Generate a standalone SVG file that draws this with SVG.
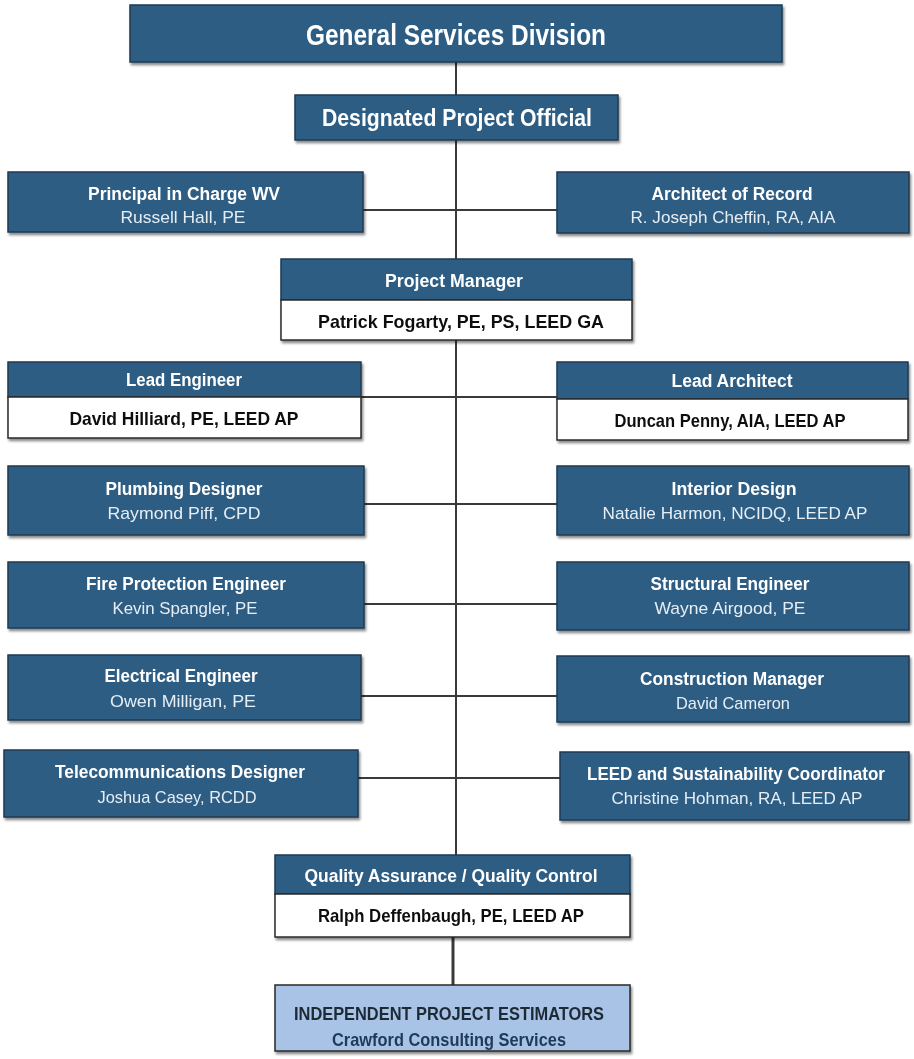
<svg xmlns="http://www.w3.org/2000/svg" width="914" height="1059" viewBox="0 0 914 1059">
<style>
.box{fill:#2d5d84;stroke:#1d3a52;stroke-width:1.5}
.wbox{fill:#ffffff;stroke:#2a2a2a;stroke-width:1.5}
.lbox{fill:#a8c3e6;stroke:#2a2a2a;stroke-width:1.5}
.t{font-family:"Liberation Sans",Arial,sans-serif;fill:#ffffff;text-anchor:middle;font-weight:bold}
.n{font-family:"Liberation Sans",Arial,sans-serif;fill:#e6eef5;text-anchor:middle}
.k{font-family:"Liberation Sans",Arial,sans-serif;fill:#111111;text-anchor:middle;font-weight:bold}
.c{stroke:#3a3a3a;stroke-width:2;fill:none}
</style>
<defs>
<filter id="sh" x="-5%" y="-10%" width="110%" height="130%">
<feDropShadow dx="1.5" dy="2.5" stdDeviation="1.2" flood-color="#000" flood-opacity="0.45"/>
</filter>
</defs>
<rect width="914" height="1059" fill="#ffffff"/>
<g id="connectors">
<line class="c" x1="456" y1="62" x2="456" y2="259"/>
<line class="c" x1="456" y1="340" x2="456" y2="855"/>
<line class="c" x1="363" y1="210" x2="557" y2="210"/>
<line class="c" x1="361" y1="397" x2="557" y2="397"/>
<line class="c" x1="364" y1="504" x2="557" y2="504"/>
<line class="c" x1="364" y1="604" x2="557" y2="604"/>
<line class="c" x1="361" y1="696" x2="557" y2="696"/>
<line class="c" x1="358" y1="778" x2="560" y2="778"/>
<line class="c" x1="453" y1="937" x2="453" y2="985" style="stroke-width:3"/>
</g>
<g id="general-services-division" filter="url(#sh)">
<rect class="box" x="130" y="5" width="652" height="57"/>
<text class="t" x="456" y="45" font-size="29" textLength="300" lengthAdjust="spacingAndGlyphs">General Services Division</text>
</g>
<g id="designated-project-official" filter="url(#sh)">
<rect class="box" x="295" y="95" width="323" height="45"/>
<text class="t" x="457" y="126" font-size="23" textLength="270" lengthAdjust="spacingAndGlyphs">Designated Project Official</text>
</g>
<g id="principal-in-charge" filter="url(#sh)">
<rect class="box" x="8" y="172" width="355" height="60"/>
<text class="t" x="184" y="200" font-size="18" textLength="192" lengthAdjust="spacingAndGlyphs">Principal in Charge WV</text>
<text class="n" x="183" y="223" font-size="17" textLength="125" lengthAdjust="spacingAndGlyphs">Russell Hall, PE</text>
</g>
<g id="architect-of-record" filter="url(#sh)">
<rect class="box" x="557" y="172" width="352" height="61"/>
<text class="t" x="732" y="200" font-size="18" textLength="161" lengthAdjust="spacingAndGlyphs">Architect of Record</text>
<text class="n" x="733" y="223" font-size="17" textLength="205" lengthAdjust="spacingAndGlyphs">R. Joseph Cheffin, RA, AIA</text>
</g>
<g id="project-manager" filter="url(#sh)">
<rect class="box" x="281" y="259" width="351" height="41"/>
<rect class="wbox" x="281" y="300" width="351" height="40"/>
<text class="t" x="454" y="287" font-size="18" textLength="138" lengthAdjust="spacingAndGlyphs">Project Manager</text>
<text class="k" x="461" y="328" font-size="19" textLength="286" lengthAdjust="spacingAndGlyphs">Patrick Fogarty, PE, PS, LEED GA</text>
</g>
<g id="lead-engineer" filter="url(#sh)">
<rect class="box" x="8" y="362" width="353" height="35"/>
<rect class="wbox" x="8" y="397" width="353" height="41"/>
<text class="t" x="184" y="386" font-size="18" textLength="116" lengthAdjust="spacingAndGlyphs">Lead Engineer</text>
<text class="k" x="184" y="425" font-size="19" textLength="229" lengthAdjust="spacingAndGlyphs">David Hilliard, PE, LEED AP</text>
</g>
<g id="lead-architect" filter="url(#sh)">
<rect class="box" x="557" y="362" width="351" height="37"/>
<rect class="wbox" x="557" y="399" width="351" height="41"/>
<text class="t" x="732" y="387" font-size="18" textLength="121" lengthAdjust="spacingAndGlyphs">Lead Architect</text>
<text class="k" x="730" y="427" font-size="19" textLength="231" lengthAdjust="spacingAndGlyphs">Duncan Penny, AIA, LEED AP</text>
</g>
<g id="plumbing-designer" filter="url(#sh)">
<rect class="box" x="8" y="466" width="356" height="69"/>
<text class="t" x="184" y="495" font-size="18" textLength="157" lengthAdjust="spacingAndGlyphs">Plumbing Designer</text>
<text class="n" x="184" y="519" font-size="17" textLength="153" lengthAdjust="spacingAndGlyphs">Raymond Piff, CPD</text>
</g>
<g id="interior-design" filter="url(#sh)">
<rect class="box" x="557" y="466" width="352" height="69"/>
<text class="t" x="734" y="495" font-size="18" textLength="125" lengthAdjust="spacingAndGlyphs">Interior Design</text>
<text class="n" x="735" y="519" font-size="17" textLength="265" lengthAdjust="spacingAndGlyphs">Natalie Harmon, NCIDQ, LEED AP</text>
</g>
<g id="fire-protection-engineer" filter="url(#sh)">
<rect class="box" x="8" y="562" width="356" height="66"/>
<text class="t" x="186" y="590" font-size="18" textLength="200" lengthAdjust="spacingAndGlyphs">Fire Protection Engineer</text>
<text class="n" x="185" y="614" font-size="17" textLength="145" lengthAdjust="spacingAndGlyphs">Kevin Spangler, PE</text>
</g>
<g id="structural-engineer" filter="url(#sh)">
<rect class="box" x="557" y="562" width="352" height="68"/>
<text class="t" x="730" y="590" font-size="18" textLength="159" lengthAdjust="spacingAndGlyphs">Structural Engineer</text>
<text class="n" x="730" y="614" font-size="17" textLength="151" lengthAdjust="spacingAndGlyphs">Wayne Airgood, PE</text>
</g>
<g id="electrical-engineer" filter="url(#sh)">
<rect class="box" x="8" y="655" width="353" height="65"/>
<text class="t" x="181" y="682" font-size="18" textLength="153" lengthAdjust="spacingAndGlyphs">Electrical Engineer</text>
<text class="n" x="183" y="707" font-size="17" textLength="146" lengthAdjust="spacingAndGlyphs">Owen Milligan, PE</text>
</g>
<g id="construction-manager" filter="url(#sh)">
<rect class="box" x="557" y="656" width="352" height="66"/>
<text class="t" x="732" y="685" font-size="18" textLength="184" lengthAdjust="spacingAndGlyphs">Construction Manager</text>
<text class="n" x="733" y="709" font-size="17" textLength="114" lengthAdjust="spacingAndGlyphs">David Cameron</text>
</g>
<g id="telecommunications-designer" filter="url(#sh)">
<rect class="box" x="4" y="750" width="354" height="67"/>
<text class="t" x="180" y="778" font-size="18" textLength="250" lengthAdjust="spacingAndGlyphs">Telecommunications Designer</text>
<text class="n" x="177" y="803" font-size="17" textLength="159" lengthAdjust="spacingAndGlyphs">Joshua Casey, RCDD</text>
</g>
<g id="leed-coordinator" filter="url(#sh)">
<rect class="box" x="560" y="752" width="349" height="68"/>
<text class="t" x="736" y="780" font-size="18" textLength="298" lengthAdjust="spacingAndGlyphs">LEED and Sustainability Coordinator</text>
<text class="n" x="737" y="804" font-size="17" textLength="251" lengthAdjust="spacingAndGlyphs">Christine Hohman, RA, LEED AP</text>
</g>
<g id="qa-qc" filter="url(#sh)">
<rect class="box" x="275" y="855" width="355" height="39"/>
<rect class="wbox" x="275" y="894" width="355" height="43"/>
<text class="t" x="451" y="882" font-size="18" textLength="293" lengthAdjust="spacingAndGlyphs">Quality Assurance / Quality Control</text>
<text class="k" x="451" y="922" font-size="19" textLength="266" lengthAdjust="spacingAndGlyphs">Ralph Deffenbaugh, PE, LEED AP</text>
</g>
<g id="independent-project-estimators" filter="url(#sh)">
<rect class="lbox" x="275" y="985" width="355" height="66"/>
<text class="k" x="449" y="1020" font-size="19" style="fill:#1e2a36" textLength="310" lengthAdjust="spacingAndGlyphs">INDEPENDENT PROJECT ESTIMATORS</text>
<text class="k" x="449" y="1046" font-size="19" style="fill:#1e3a5a" textLength="234" lengthAdjust="spacingAndGlyphs">Crawford Consulting Services</text>
</g>
</svg>
